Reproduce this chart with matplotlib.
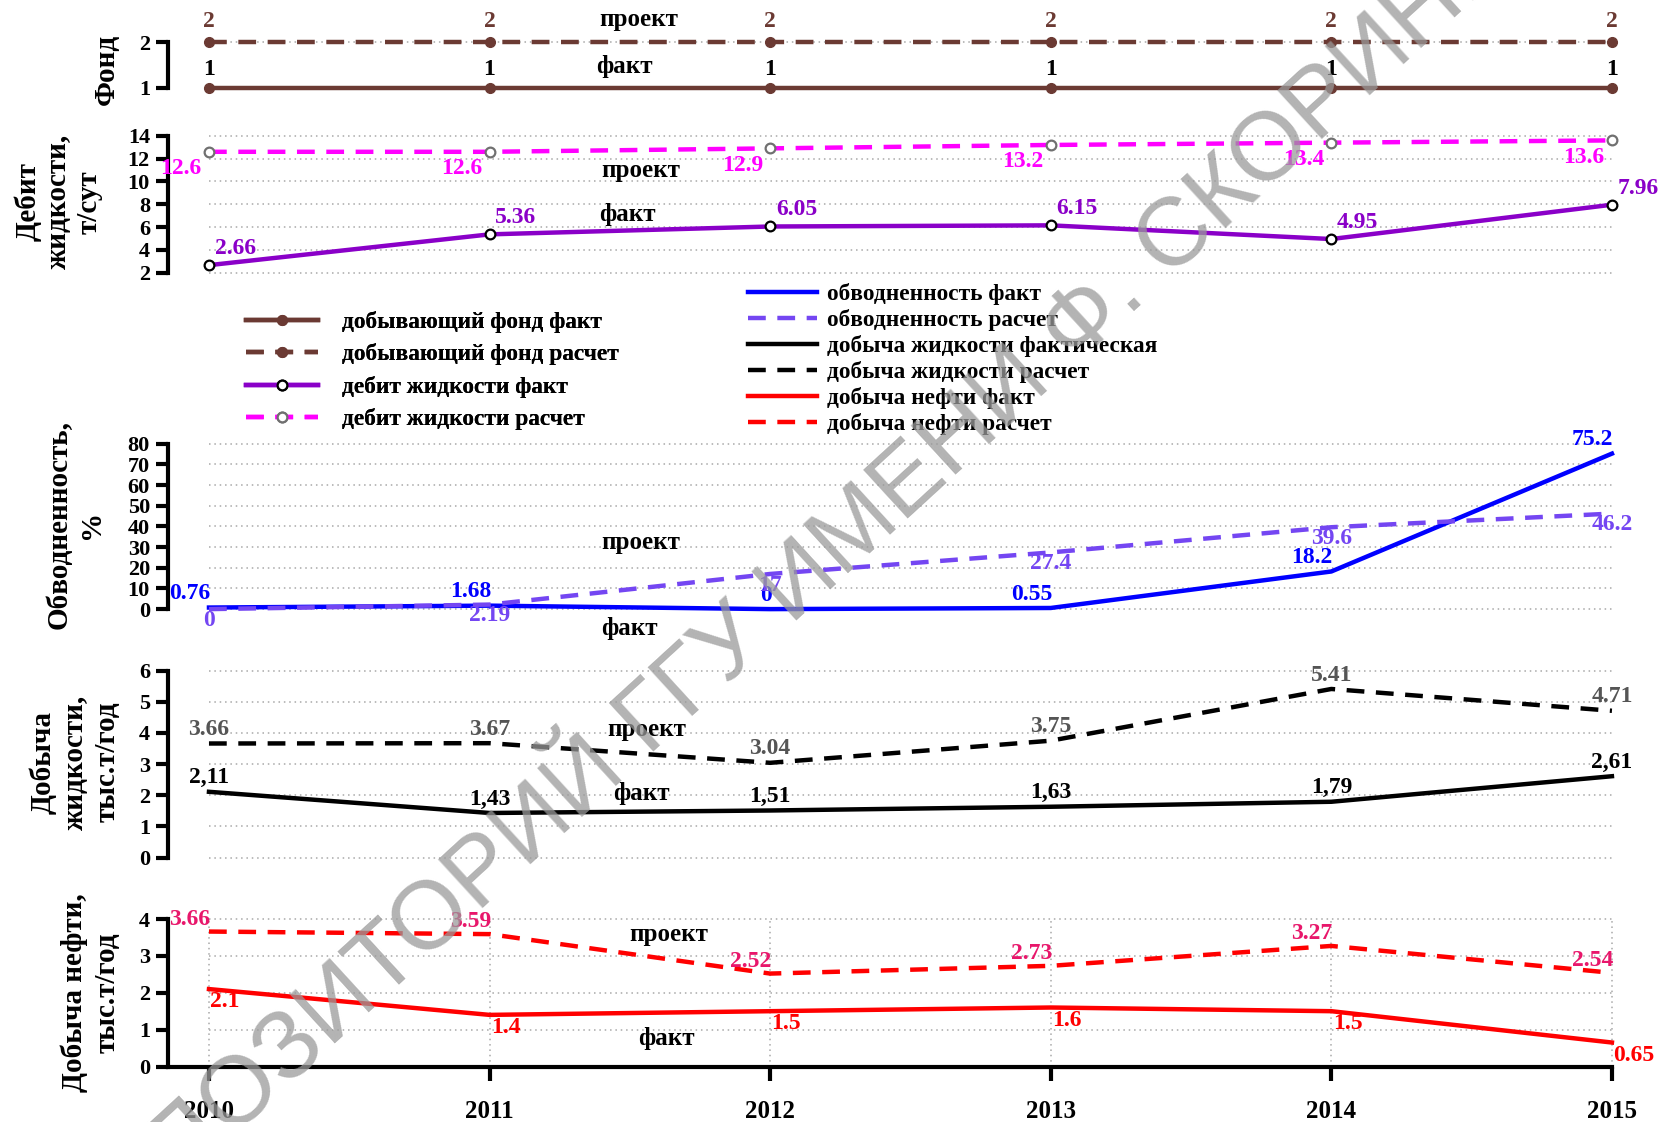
import matplotlib
matplotlib.use("Agg")
import matplotlib.pyplot as plt
from matplotlib import font_manager

plt.rcParams['font.family'] = ['Liberation Serif', 'DejaVu Serif']
plt.rcParams['font.weight'] = 'bold'

# ---- data ----
years = [2010, 2011, 2012, 2013, 2014, 2015]

fund_fact = [1, 1, 1, 1, 1, 1]
fund_plan = [2, 2, 2, 2, 2, 2]

rate_fact = [2.66, 5.36, 6.05, 6.15, 4.95, 7.96]
rate_plan = [12.6, 12.6, 12.9, 13.2, 13.4, 13.6]

wcut_fact = [0.76, 1.68, 0, 0.55, 18.2, 75.2]
wcut_plan = [0, 2.19, 17, 27.4, 39.6, 46.2]

liq_fact = [2.11, 1.43, 1.51, 1.63, 1.79, 2.61]
liq_plan = [3.66, 3.67, 3.04, 3.75, 5.41, 4.71]
liq_fact_labels = ["2,11", "1,43", "1,51", "1,63", "1,79", "2,61"]

oil_fact = [2.1, 1.4, 1.5, 1.6, 1.5, 0.65]
oil_plan = [3.66, 3.59, 2.52, 2.73, 3.27, 2.54]

# ---- colours ----
BROWN = "#6b3a33"
PURPLE = "#8a00c8"
MAGENTA = "#ff00ff"
BLUE = "#0000ff"
VIOLET = "#7446f2"
RED = "#ff0000"
PINK = "#e8176b"

W, H = 1664, 1122
fig = plt.figure(figsize=(W / 100, H / 100), dpi=100)

LEFT = 168 / W
WIDTH = (1640 - 168) / W
XLIM = (2009.854, 2015.1)
DASH = (0, (4, 2.6))
NOTE = 18   # size of "проект" / "факт"
YLAB = 21


def make_ax(top_px, bot_px, ylim, ticks, grid=True):
    ax = fig.add_axes([LEFT, 1 - bot_px / H, WIDTH, (bot_px - top_px) / H])
    ax.set_xlim(*XLIM)
    ax.set_ylim(*ylim)
    ax.patch.set_alpha(0)
    for s in ["top", "right", "bottom"]:
        ax.spines[s].set_visible(False)
    ax.spines["left"].set_linewidth(3)
    ax.spines["left"].set_bounds(ticks[0], ticks[-1])
    ax.set_yticks(ticks)
    ax.set_yticklabels([str(t) for t in ticks])
    ax.tick_params(axis="y", direction="out", length=9, width=3, labelsize=16, pad=4)
    ax.set_xticks([])
    if grid:
        ax.hlines(ticks, years[0], years[-1], colors="#a8a8a8",
                  linestyles=(0, (1, 2.5)), lw=1.1, zorder=0)
    return ax


def labels(ax, xs, ys, texts, color, dx, dy, ha="center", size=17):
    for x, y, t in zip(xs, ys, texts):
        ax.annotate(t, (x, y), xytext=(dx, dy), textcoords="offset points",
                    ha=ha, va="center", color=color, fontsize=size,
                    annotation_clip=False)


def fmt(v):
    return "%g" % v


# ---- panel 1: Фонд ----
ax1 = make_ax(10, 100, (0.739, 2.696), [1, 2])
l_ff, = ax1.plot(years, fund_fact, color=BROWN, lw=3.2, marker="o", ms=7,
                 label="добывающий фонд факт")
l_fp, = ax1.plot(years, fund_plan, color=BROWN, lw=3.2, ls=DASH, marker="o", ms=7,
                 label="добывающий фонд расчет")
labels(ax1, years, fund_plan, [fmt(v) for v in fund_plan], BROWN, 0, 15)
labels(ax1, years, fund_fact, [fmt(v) for v in fund_fact], "black", 0, 13)
ax1.text(2011.53, 2.5, "проект", ha="center", va="center", fontsize=NOTE)
ax1.text(2011.48, 1.46, "факт", ha="center", va="center", fontsize=NOTE)
ax1.set_ylabel("Фонд", fontsize=YLAB, fontweight="bold")
ax1.yaxis.set_label_coords(-0.0325, 0.34)

# ---- panel 2: Дебит ----
ax2 = make_ax(125, 285, (0.92, 14.95), [2, 4, 6, 8, 10, 12, 14])
l_rf, = ax2.plot(years, rate_fact, color=PURPLE, lw=3.2, marker="o", ms=7,
                 mfc="white", mec="black", mew=1.6, label="дебит жидкости факт")
l_rp, = ax2.plot(years, rate_plan, color=MAGENTA, lw=3.2, ls=DASH, marker="o", ms=7,
                 mfc="white", mec="#707070", mew=1.6, label="дебит жидкости расчет")
labels(ax2, years, rate_plan, [fmt(v) for v in rate_plan], MAGENTA, -20, -12)
labels(ax2, years, rate_fact, [fmt(v) for v in rate_fact], PURPLE, 19, 12)
ax2.text(2011.54, 11.0, "проект", ha="center", va="center", fontsize=NOTE)
ax2.text(2011.49, 7.06, "факт", ha="center", va="center", fontsize=NOTE)
ax2.set_ylabel("Дебит\nжидкости,\nт/сут", fontsize=YLAB, fontweight="bold",
               linespacing=1.17)
ax2.yaxis.set_label_coords(-0.0445, 0.52)

# ---- panel 3: Обводненность ----
ax3 = make_ax(435, 630, (-10.1, 84.2), [0, 10, 20, 30, 40, 50, 60, 70, 80])
l_wf, = ax3.plot(years, wcut_fact, color=BLUE, lw=3.2, label="обводненность факт")
l_wp, = ax3.plot(years, wcut_plan, color=VIOLET, lw=3.2, ls=DASH,
                 label="обводненность расчет")
labels(ax3, years, wcut_fact, [fmt(v) for v in wcut_fact], BLUE, 1, 10, ha="right")
labels(ax3, years, wcut_plan, [fmt(v) for v in wcut_plan], VIOLET, 0, -8)
ax3.text(2011.54, 32.4, "проект", ha="center", va="center", fontsize=NOTE)
ax3.text(2011.5, -9.6, "факт", ha="center", va="center", fontsize=NOTE)
ax3.set_ylabel("Обводненность,\n%", fontsize=YLAB, fontweight="bold", linespacing=1.25)
ax3.yaxis.set_label_coords(-0.043, 0.54)

# ---- panel 4: Добыча жидкости ----
ax4 = make_ax(660, 870, (-0.40, 6.34), [0, 1, 2, 3, 4, 5, 6])
l_lf, = ax4.plot(years, liq_fact, color="black", lw=3.2,
                 label="добыча жидкости фактическая")
l_lp, = ax4.plot(years, liq_plan, color="black", lw=3.2, ls=DASH,
                 label="добыча жидкости расчет")
labels(ax4, years, liq_fact, liq_fact_labels, "black", 0, 10)
labels(ax4, years, liq_plan, [fmt(v) for v in liq_plan], "#555555", 0, 10)
ax4.text(2011.56, 4.1, "проект", ha="center", va="center", fontsize=NOTE)
ax4.text(2011.54, 2.04, "факт", ha="center", va="center", fontsize=NOTE)
ax4.set_ylabel("Добыча\nжидкости,\nтыс.т/год", fontsize=YLAB, fontweight="bold",
               linespacing=1.25)
ax4.yaxis.set_label_coords(-0.032, 0.514)

# ---- panel 5: Добыча нефти ----
ax5 = make_ax(905, 1066.5, (0, 4.38), [0, 1, 2, 3, 4])
ax5.vlines(years, 0, 4, colors="#a8a8a8", linestyles=(0, (1, 2.5)), lw=1.1, zorder=0)
l_of, = ax5.plot(years, oil_fact, color=RED, lw=3.2, label="добыча нефти факт")
l_op, = ax5.plot(years, oil_plan, color=RED, lw=3.2, ls=DASH,
                 label="добыча нефти расчет")
labels(ax5, years, oil_plan, [fmt(v) for v in oil_plan], PINK, 1, 9, ha="right")
labels(ax5, years, oil_fact, [fmt(v) for v in oil_fact], RED, 1, -9, ha="left")
ax5.text(2011.64, 3.59, "проект", ha="center", va="center", fontsize=NOTE)
ax5.text(2011.63, 0.77, "факт", ha="center", va="center", fontsize=NOTE)
ax5.set_ylabel("Добыча нефти,\nтыс.т/год", fontsize=YLAB, fontweight="bold",
               linespacing=1.27)
ax5.yaxis.set_label_coords(-0.032, 0.46)
ax5.spines["bottom"].set_visible(True)
ax5.spines["bottom"].set_linewidth(3)
ax5.spines["bottom"].set_bounds(XLIM[0], years[-1])
ax5.set_xticks(years)
ax5.set_xticklabels([str(y) for y in years])
ax5.tick_params(axis="x", direction="out", length=10, width=3, labelsize=18, pad=14)

# ---- legends ----
leg1 = fig.legend(handles=[l_ff, l_fp, l_rf, l_rp], loc="upper left",
                  bbox_to_anchor=(246 / W, 1 - 311 / H), frameon=False,
                  fontsize=16.8, handlelength=3.1, handletextpad=1.0,
                  labelspacing=0.45, borderaxespad=0, borderpad=0)
fig.add_artist(leg1)
fig.legend(handles=[l_wf, l_wp, l_lf, l_lp, l_of, l_op], loc="upper left",
           bbox_to_anchor=(748 / W, 1 - 283 / H), frameon=False,
           fontsize=16.8, handlelength=2.95, handletextpad=0.42,
           labelspacing=0.17, borderaxespad=0, borderpad=0)

# ---- watermark (condensed sans if available) ----
try:
    font_manager.findfont("Liberation Sans Narrow", fallback_to_default=False)
    wm_family, wm_size = "Liberation Sans Narrow", 85
except Exception:
    wm_family, wm_size = "Liberation Sans", 70
fig.text(0.475, 0.472, "РЕПОЗИТОРИЙ ГГУ ИМЕНИ Ф. СКОРИНЫ", fontsize=wm_size,
         family=wm_family, fontweight="normal", color="#9a9a9a",
         alpha=0.75, rotation=42.5, ha="center", va="center", zorder=10)

fig.savefig("out.png", dpi=100)
